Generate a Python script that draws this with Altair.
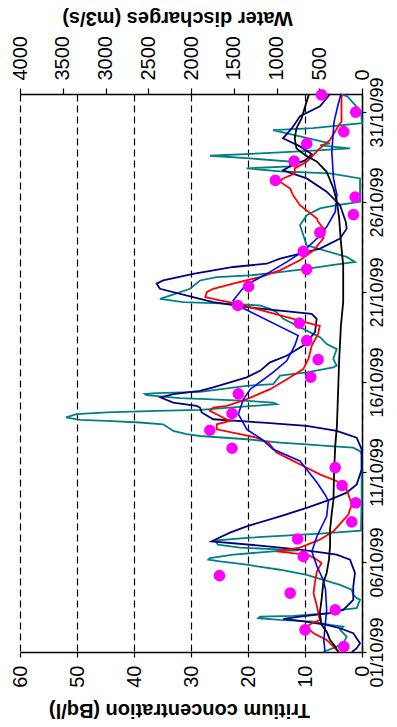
import altair as alt
import pandas as pd

FONT = "Liberation Sans"

# ---------------- axis ticks / labels ----------------
date_ticks = [0, 5, 10, 15, 20, 25, 30]
date_labels = ["01/10/99", "06/10/99", "11/10/99", "16/10/99", "21/10/99", "26/10/99", "31/10/99"]
tritium_ticks = [0, 10, 20, 30, 40, 50, 60]
discharge_ticks = [0, 500, 1000, 1500, 2000, 2500, 3000, 3500, 4000]

# ---------------- data (day offset from 01/10/99) ----------------
dot_day = [0.30, 1.23, 2.34, 3.27, 4.24, 5.31, 6.28, 7.23, 8.29, 9.25, 10.24, 11.32, 12.32, 13.25,
           14.34, 15.27, 16.24, 17.30, 18.27, 19.25, 20.31, 21.26, 22.26, 23.30, 24.30, 25.27,
           26.20, 27.27, 28.24, 28.91, 29.99, 30.95]
dot_T = [3.2, 10.0, 4.7, 12.6, 25.0, 10.3, 11.3, 1.8, 1.1, 3.5, 4.7, 22.8, 26.7, 22.8, 21.7, 9.0,
         7.7, 9.7, 11.0, 21.8, 19.9, 9.7, 10.3, 7.4, 1.5, 1.2, 15.2, 11.9, 9.7, 3.2, 1.1, 7.1]

red_day = [0.0, 0.11, 0.67, 1.04, 1.41, 1.60, 1.78, 2.53, 3.27, 4.01, 4.48, 4.94, 5.13, 5.40, 5.59,
           5.80, 6.24, 6.71, 7.64, 8.19, 8.47, 9.03, 9.49, 9.87, 10.33, 10.70, 11.08, 11.63, 11.91,
           12.10, 12.37, 12.65, 12.84, 13.40, 13.58, 13.67, 14.05, 14.60, 15.26, 15.72, 16.28,
           17.02, 17.67, 18.13, 18.17, 18.78, 19.34, 19.53, 19.72, 20.00, 20.18, 20.46, 20.83,
           21.20, 21.76, 22.31, 22.97, 23.43, 23.90, 24.08, 24.82, 25.38, 25.75, 26.13, 26.31,
           26.59, 26.87, 27.24, 27.98, 28.45, 29.10, 29.47, 30.77, 31.0]
red_T = [4.0, 4.4, 6.2, 8.5, 9.7, 8.8, 7.4, 7.9, 8.5, 8.2, 7.9, 7.1, 7.9, 9.5, 15.0, 10.9, 7.4, 5.0,
         2.4, 1.8, 2.1, 2.7, 4.4, 7.4, 10.3, 12.6, 15.0, 16.4, 18.5, 21.4, 25.5, 25.5, 23.2, 26.7,
         26.1, 23.7, 20.2, 16.1, 12.6, 10.3, 9.4, 8.8, 7.7, 7.4, 8.2, 15.3, 21.7, 24.9, 27.5, 27.2,
         26.1, 22.6, 17.9, 14.4, 10.9, 8.5, 6.8, 6.5, 7.7, 7.9, 10.9, 12.1, 12.6, 14.4, 13.8, 11.8,
         11.8, 9.7, 7.4, 5.6, 4.4, 3.6, 3.6, 3.5]

blue_day = [0.02, 0.67, 2.34, 3.46, 4.01, 4.75, 5.59, 6.43, 7.54, 8.38, 8.75, 9.42, 10.14, 10.61,
            11.26, 11.82, 12.37, 13.21, 14.05, 14.60, 15.53, 16.18, 17.02, 17.58, 19.25, 19.53,
            20.36, 21.01, 21.67, 22.26, 22.97, 23.62, 24.45, 25.38, 26.31, 27.80, 29.47, 30.40, 30.99]
blue_T = [6.5, 6.7, 6.2, 6.4, 6.8, 7.9, 8.8, 7.9, 6.2, 5.9, 6.5, 7.9, 9.7, 10.9, 15.6, 17.6, 20.2,
          21.7, 20.8, 19.6, 15.6, 13.2, 11.8, 11.2, 21.8, 22.6, 20.5, 16.7, 13.2, 10.3, 7.9, 6.2,
          4.7, 4.4, 5.0, 5.3, 4.9, 4.2, 3.7]

black_day = [0.02, 0.30, 0.67, 1.13, 1.51, 2.16, 2.90, 3.83, 4.39, 5.13, 5.87, 6.80, 7.73, 8.47,
             9.96, 11.44, 12.56, 14.42, 16.28, 18.13, 19.44, 21.48, 22.78, 24.08, 25.01, 25.75,
             26.68, 27.24, 27.61, 27.98, 28.54, 29.10, 29.65, 30.59, 30.99]
black_T = [4.2, 4.7, 5.6, 6.2, 7.1, 7.4, 7.1, 6.8, 6.2, 5.8, 5.6, 5.6, 5.3, 5.0, 4.9, 4.7, 4.4, 4.2,
           4.0, 3.7, 3.3, 3.3, 3.7, 4.0, 4.4, 5.0, 6.2, 7.9, 10.0, 11.5, 11.8, 11.5, 10.6, 9.7, 9.3]

navy_day = [0.0, 0.21, 0.48, 1.04, 1.32, 1.51, 1.73, 1.84, 1.97, 2.16, 2.34, 2.90, 3.64, 4.39, 5.13,
            5.41, 5.59, 5.69, 5.91, 6.15, 6.63, 6.98, 7.54, 8.01, 8.47, 8.85, 9.31, 10.14, 11.26,
            11.91, 12.28, 12.56, 12.74, 12.93, 13.31, 13.58, 13.67, 13.86, 14.14, 14.33, 14.51,
            14.70, 15.26, 15.62, 16.09, 16.46, 17.02, 17.76, 18.51, 18.78, 18.97, 19.16, 19.44,
            19.62, 20.18, 20.46, 20.64, 21.01, 21.39, 21.57, 21.85, 22.41, 22.97, 23.52, 23.90,
            24.82, 25.57, 26.31, 26.76, 26.98, 27.31, 27.65, 28.09, 28.54, 29.10, 29.77, 30.32, 31.0]
navy_Q = [117, 62, 23, 102, 257, 413, 725, 920, 725, 374, 219, 102, 102, 82, 140, 296, 570, 725,
          1193, 1758, 1544, 1349, 959, 647, 374, 179, 62, 4, 4, 62, 296, 647, 1155, 1740, 1875,
          1895, 1934, 2208, 2355, 2208, 1895, 1740, 1349, 1193, 1076, 881, 687, 550, 530, 589, 959,
          1349, 1740, 1895, 2363, 2402, 2325, 1974, 1506, 1115, 959, 491, 257, 179, 190, 257, 413,
          647, 924, 842, 667, 585, 725, 924, 819, 725, 491, 374]

teal_day = [0.0, 0.30, 0.48, 0.85, 1.23, 1.41, 1.51, 1.69, 1.78, 1.88, 1.97, 2.01, 2.06, 2.16, 2.34,
            2.44, 2.90, 2.99, 3.18, 3.46, 3.73, 4.01, 4.29, 4.57, 4.85, 5.03, 5.13, 5.22, 5.41, 5.59,
            5.65, 5.80, 5.96, 6.19, 6.35, 6.58, 6.74, 8.47, 10.98, 11.16, 11.35, 11.44, 11.54, 11.63,
            11.82, 12.00, 12.10, 12.28, 12.65, 12.75, 12.84, 12.90, 13.03, 13.21, 13.31, 13.40,
            13.45, 13.77, 13.86, 13.95, 14.05, 14.10, 14.27, 14.33, 14.38, 14.45, 14.79, 14.88,
            15.35, 15.53, 15.81, 15.91, 16.28, 16.83, 17.11, 17.49, 17.76, 18.51, 18.88, 19.06,
            19.25, 19.34, 19.44, 19.62, 19.80, 20.18, 20.64, 20.83, 20.92, 21.11, 21.29, 21.48,
            21.67, 21.95, 22.59, 23.71, 24.27, 24.64, 24.82, 25.01, 26.31, 26.59, 26.70, 26.87,
            26.98, 27.24, 27.42, 27.57, 27.70, 27.81, 27.98, 28.15, 28.26, 28.65, 28.99, 29.10,
            29.38, 30.04, 30.88, 30.99]
teal_Q = [453, 296, 219, 179, 257, 219, 374, 570, 959, 1213, 1193, 804, 647, 374, 257, 62, 23, 62,
          102, 121, 257, 453, 647, 959, 1349, 1661, 1798, 1778, 1506, 1038, 745, 1427, 1685, 1720,
          1310, 491, 12, 4, 4, 23, 102, 374, 647, 959, 1349, 1895, 2051, 2208, 2325, 2597, 2987,
          3299, 3463, 3338, 2987, 2402, 1895, 998, 1038, 1349, 1817, 2129, 2519, 2539, 2402, 1895,
          1349, 1038, 959, 647, 336, 296, 336, 296, 413, 491, 608, 920, 998, 1076, 1193, 1506, 2091,
          2363, 2246, 2012, 1895, 1700, 1310, 959, 647, 374, 82, 179, 647, 725, 647, 491, 296, 23,
          23, 374, 959, 1349, 842, 842, 1310, 1778, 1193, 725, 140, 491, 374, 725, 1041, 573, 0, 12,
          176, 257]


def frame(day, vals, field):
    return pd.DataFrame({"day": day, field: vals, "i": list(range(len(day)))})


label_expr = "[" + ",".join("'%s'" % s for s in date_labels) + "][round(datum.value / 5)]"

axis_day = alt.Axis(orient="right", values=date_ticks, labelExpr=label_expr, labelAngle=270,
                    labelAlign="center", labelBaseline="top", labelFont=FONT, labelFontSize=18,
                    labelColor="black", labelPadding=2, grid=False, domainColor="black",
                    domainWidth=1.5, tickColor="black", tickSize=4, tickWidth=1.2, title=None)

axis_t = alt.Axis(orient="bottom", values=tritium_ticks, labelAngle=270, labelAlign="right",
                  labelBaseline="middle", labelFont=FONT, labelFontSize=20, labelColor="black",
                  labelPadding=8, grid=True, gridDash=[7, 4], gridColor="black", gridWidth=1.2,
                  domainColor="black", domainWidth=1.5, tickColor="black", tickSize=5,
                  tickWidth=1.2, title="Tritium concentration (Bq/l)", titleAngle=180,
                  titleAlign="center", titleBaseline="middle", titleX=159, titleY=57,
                  titleFont=FONT, titleFontSize=20, titleFontWeight="bold", titleColor="black")

axis_q = alt.Axis(orient="top", values=discharge_ticks, format="d", labelAngle=270,
                  labelAlign="left", labelBaseline="middle", labelFont=FONT, labelFontSize=20,
                  labelColor="black", labelPadding=8, grid=False, domainColor="black",
                  domainWidth=1.5, tickColor="black", tickSize=6, tickWidth=1.2,
                  title="Water discharges (m3/s)", titleAngle=180, titleAlign="center",
                  titleBaseline="middle", titleX=157, titleY=-77, titleFont=FONT,
                  titleFontSize=20, titleFontWeight="bold", titleColor="black")

y_enc = alt.Y("day:Q", scale=alt.Scale(domain=[0, 31], nice=False, zero=False), axis=axis_day)
x_t = alt.X("T:Q", scale=alt.Scale(domain=[0, 60], reverse=True, nice=False, zero=True), axis=axis_t)
x_q = alt.X("Q:Q", scale=alt.Scale(domain=[0, 4000], reverse=True, nice=False, zero=True), axis=axis_q)


def qline(day, vals, color, w=1.8):
    return alt.Chart(frame(day, vals, "Q")).mark_line(color=color, strokeWidth=w).encode(
        x=x_q, y=y_enc, order="i:Q")


def tline(day, vals, color, w=1.8):
    return alt.Chart(frame(day, vals, "T")).mark_line(color=color, strokeWidth=w).encode(
        x=x_t, y=y_enc, order="i:Q")


teal = qline(teal_day, teal_Q, "#008080")
navy = qline(navy_day, navy_Q, "#000080")
red = tline(red_day, red_T, "#FF0000")
blue = tline(blue_day, blue_T, "#0000FF", 1.6)
black = tline(black_day, black_T, "#000000")
dots = alt.Chart(frame(dot_day, dot_T, "T")).mark_circle(color="#FF00FF", size=135, opacity=1).encode(
    x=x_t, y=y_enc)

q_layer = alt.layer(teal, navy)
t_layer = alt.layer(red, blue, black, dots)

chart = alt.layer(q_layer, t_layer).resolve_scale(x="independent").properties(
    width=342, height=558,
    padding={"left": 12, "top": 86, "right": 27, "bottom": 75},
    autosize=alt.AutoSizeParams(type="none"),
    background="white",
).configure_view(strokeWidth=0)

chart.save("out.html", embed_options={"renderer": "svg", "actions": False})
